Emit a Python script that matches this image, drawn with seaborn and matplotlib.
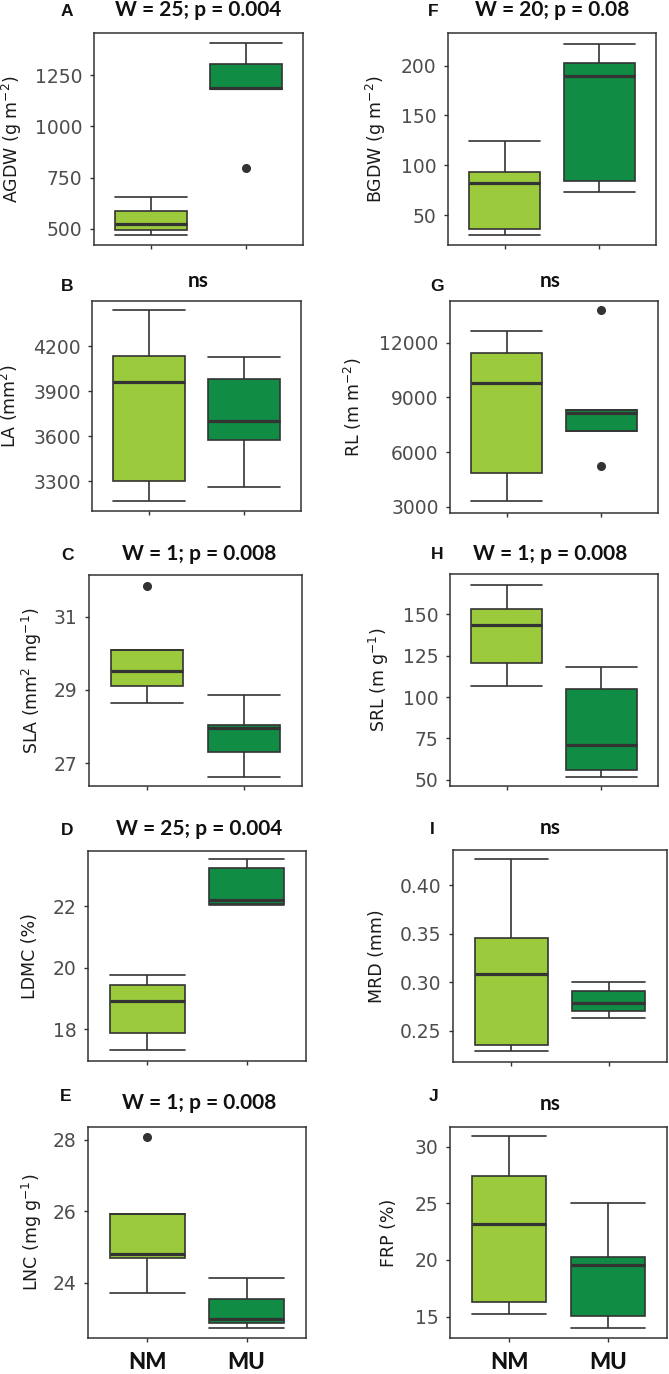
import numpy as np
import pandas as pd
import matplotlib
matplotlib.use("Agg")
import matplotlib.pyplot as plt
import seaborn as sns

# ---------------- data (n = 5 per group) ----------------
groups = ["NM", "MU"]

agdw_nm = [469, 495, 523, 589, 657]
agdw_mu = [799, 1184, 1188, 1304, 1405]

la_nm = [3171, 3304, 3962, 4133, 4444]
la_mu = [3262, 3577, 3702, 3982, 4127]

sla_nm = [28.63, 29.10, 29.51, 30.10, 31.86]
sla_mu = [26.62, 27.29, 27.95, 28.03, 28.87]

ldmc_nm = [17.31, 17.86, 18.91, 19.45, 19.75]
ldmc_mu = [22.05, 22.07, 22.22, 23.24, 23.53]

lnc_nm = [23.70, 24.68, 24.79, 25.91, 28.06]
lnc_mu = [22.74, 22.87, 22.97, 23.55, 24.14]

bgdw_nm = [29.6, 35.6, 82.0, 93.0, 124.6]
bgdw_mu = [73.4, 84.0, 190.0, 203.0, 222.0]

rl_nm = [3329, 4870, 9786, 11434, 12642]
rl_mu = [5250, 7150, 8160, 8303, 13782]

srl_nm = [107.0, 120.8, 143.6, 153.3, 167.6]
srl_mu = [51.6, 55.9, 70.9, 105.2, 118.1]

mrd_nm = [0.2294, 0.2353, 0.3082, 0.3454, 0.4268]
mrd_mu = [0.2636, 0.2708, 0.2787, 0.2907, 0.3000]

frp_nm = [15.26, 16.27, 23.14, 27.39, 30.92]
frp_mu = [13.97, 15.06, 19.56, 20.26, 25.00]

titles = {"A": "W = 25; p = 0.004", "B": "ns", "C": "W = 1; p = 0.008",
          "D": "W = 25; p = 0.004", "E": "W = 1; p = 0.008",
          "F": "W = 20; p = 0.08", "G": "ns", "H": "W = 1; p = 0.008",
          "I": "ns", "J": "ns"}

ylabels = {"A": "AGDW (g m$^{-2}$)", "B": "LA (mm$^{2}$)",
           "C": "SLA (mm$^{2}$ mg$^{-1}$)", "D": "LDMC (%)",
           "E": "LNC (mg g$^{-1}$)", "F": "BGDW (g m$^{-2}$)",
           "G": "RL (m m$^{-2}$)", "H": "SRL (m g$^{-1}$)",
           "I": "MRD (mm)", "J": "FRP (%)"}

yticks = {"A": [500, 750, 1000, 1250], "B": [3300, 3600, 3900, 4200],
          "C": [27, 29, 31], "D": [18, 20, 22], "E": [24, 26, 28],
          "F": [50, 100, 150, 200], "G": [3000, 6000, 9000, 12000],
          "H": [50, 75, 100, 125, 150], "I": [0.25, 0.30, 0.35, 0.40],
          "J": [15, 20, 25, 30]}

ylims = {"A": (422, 1455), "B": (3102, 4502), "C": (26.37, 32.15),
         "D": (16.96, 23.80), "E": (22.45, 28.35), "F": (19.9, 232.7),
         "G": (2671, 14287), "H": (46.2, 174.5), "I": (0.218, 0.4364),
         "J": (13.1, 31.76)}

values = {"A": (agdw_nm, agdw_mu), "B": (la_nm, la_mu), "C": (sla_nm, sla_mu),
          "D": (ldmc_nm, ldmc_mu), "E": (lnc_nm, lnc_mu),
          "F": (bgdw_nm, bgdw_mu), "G": (rl_nm, rl_mu), "H": (srl_nm, srl_mu),
          "I": (mrd_nm, mrd_mu), "J": (frp_nm, frp_mu)}

# ---------------- layout (pixels) ----------------
W, H = 669, 1374
axes_px = {"A": (94, 33, 303, 245), "B": (92, 301, 301, 511),
           "C": (89, 575, 302, 786), "D": (88, 851, 306, 1061),
           "E": (88, 1127, 306, 1338), "F": (448, 33, 656, 245),
           "G": (450, 301, 658, 513), "H": (450, 574, 658, 786),
           "I": (453, 850, 667, 1062), "J": (450, 1127, 667, 1338)}
ylabel_right = {"A": 24, "B": 20, "C": 44, "D": 39, "E": 44,
                "F": 388, "G": 364, "H": 391, "I": 386, "J": 398}
title_pos = {"A": (198, 16), "B": (198, 287), "C": (199, 560), "D": (199, 835),
             "E": (199, 1109), "F": (552, 16), "G": (550, 287), "H": (550, 560),
             "I": (550, 834), "J": (550, 1110)}
letter_pos = {"A": (67, 16), "B": (67, 291), "C": (67, 560), "D": (67, 835),
              "E": (66, 1101), "F": (433, 16), "G": (437, 291), "H": (437, 559),
              "I": (432, 834), "J": (434, 1101)}

light_green = "#9BCB3C"
dark_green = "#118C44"
line_col = "#333333"

sns.set_theme(style="white")
plt.rcParams["font.family"] = ["DejaVu Sans"]
plt.rcParams["mathtext.default"] = "regular"

fig = plt.figure(figsize=(W / 100, H / 100), dpi=100)


def rect(x0, y0, x1, y1):
    return [x0 / W, 1 - y1 / H, (x1 - x0) / W, (y1 - y0) / H]


for key in "ABCDEFGHIJ":
    nm, mu = values[key]
    df = pd.DataFrame({"group": [groups[0]] * len(nm) + [groups[1]] * len(mu),
                       "value": list(nm) + list(mu)})
    x0, y0, x1, y1 = axes_px[key]
    ax = fig.add_axes(rect(x0, y0, x1, y1))
    sns.boxplot(data=df, x="group", y="value", hue="group", order=groups,
                hue_order=groups, palette=[light_green, dark_green],
                saturation=1, width=0.75, linecolor=line_col, linewidth=1.2,
                whis=1.5, fliersize=5.5, legend=False, ax=ax,
                capwidths=0.75,
                medianprops=dict(color=line_col, linewidth=2.3),
                flierprops=dict(marker="o", markerfacecolor=line_col,
                                markeredgecolor=line_col))
    ax.set_xlim(-0.6, 1.6)
    ax.set_ylim(*ylims[key])
    ax.set_yticks(yticks[key])
    if key == "I":
        ax.set_yticklabels([f"{v:.2f}" for v in yticks[key]])
    ax.set_xlabel("")
    ax.set_ylabel(ylabels[key], fontsize=12.5, color="#1a1a1a")
    ax.yaxis.set_label_coords((ylabel_right[key] - x0) / (x1 - x0), 0.5)
    for sp in ax.spines.values():
        sp.set_visible(True)
        sp.set_color(line_col)
        sp.set_linewidth(1.1)
    ax.tick_params(axis="both", direction="out", length=3.2, width=1.0,
                   color=line_col, labelsize=13.5, labelcolor="#4D4D4D",
                   pad=5, left=True, bottom=True)
    if key in ("E", "J"):
        ax.tick_params(axis="x", pad=7)
        for lab in ax.get_xticklabels():
            lab.set_fontfamily("Lato")
            lab.set_fontweight("black")
            lab.set_fontsize(16)
            lab.set_color("#111111")
    else:
        ax.tick_params(axis="x", labelbottom=False)

    tx, ty = title_pos[key]
    fig.text(tx / W, 1 - ty / H, titles[key], ha="center", va="baseline",
             fontsize=15, fontweight="bold", family="Lato", color="#111111")
    lx, ly = letter_pos[key]
    fig.text(lx / W, 1 - ly / H, key, ha="center", va="baseline",
             fontsize=12.5, fontweight="bold", family="Liberation Sans",
             color="#111111")

fig.savefig("out.png", dpi=100, facecolor="white")
